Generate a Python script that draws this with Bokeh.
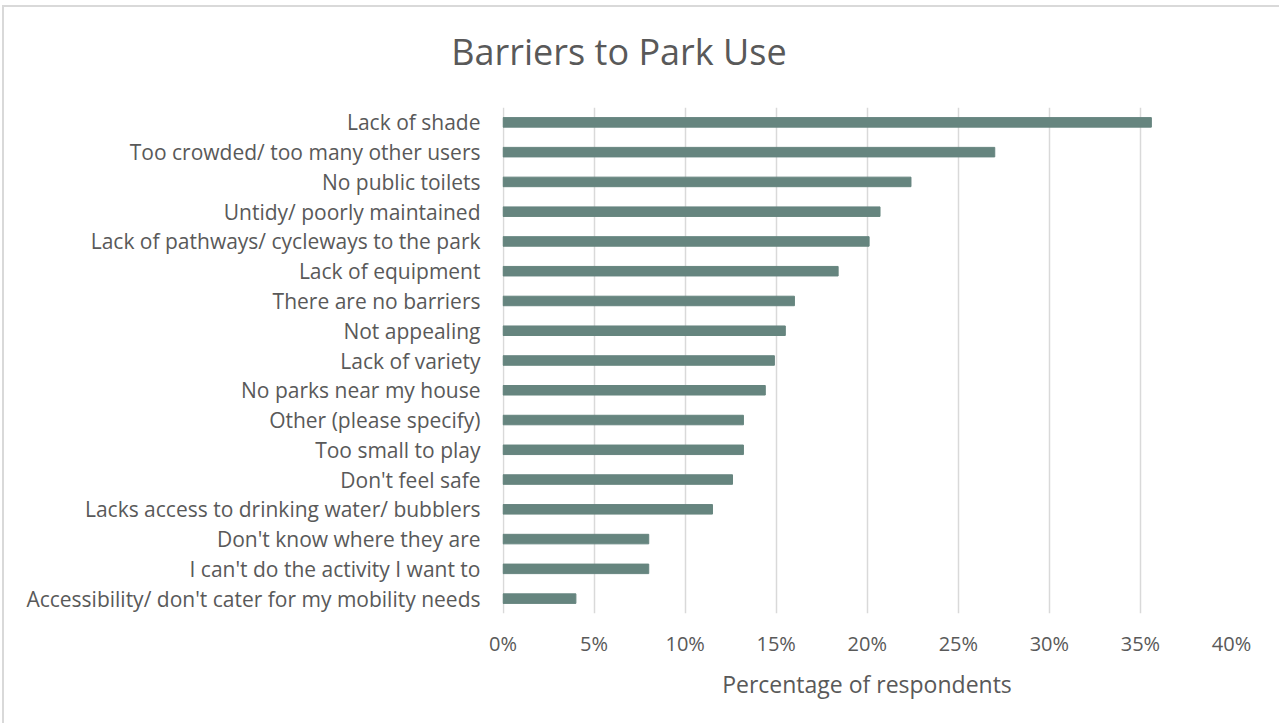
from bokeh.plotting import figure
from bokeh.models import Range1d, FixedTicker, PrintfTickFormatter, Div
from bokeh.layouts import column
from bokeh.embed import file_html
from bokeh.resources import INLINE

# ---- data (top-to-bottom order as shown) ----
categories = [
    "Lack of shade",
    "Too crowded/ too many other users",
    "No public toilets",
    "Untidy/ poorly maintained",
    "Lack of pathways/ cycleways to the park",
    "Lack of equipment",
    "There are no barriers",
    "Not appealing",
    "Lack of variety",
    "No parks near my house",
    "Other (please specify)",
    "Too small to play",
    "Don't feel safe",
    "Lacks access to drinking water/ bubblers",
    "Don't know where they are",
    "I can't do the activity I want to",
    "Accessibility/ don't cater for my mobility needs",
]
values = [35.6, 27.0, 22.4, 20.7, 20.1, 18.4, 16.0, 15.5, 14.9, 14.4,
          13.2, 13.2, 12.6, 11.5, 8.0, 8.0, 4.0]
x_ticks = [0, 5, 10, 15, 20, 25, 30, 35, 40]
title_text = "Barriers to Park Use"
x_label = "Percentage of respondents"

TEXT = "#595959"
BAR = "#66857f"
GRID = "#d9d9d9"
FONT = "Open Sans"

n = len(categories)
ypos = [n - 1 - i for i in range(n)]

title_div = Div(
    text=(f'<div style="width:1230px;text-align:center;margin-top:27px;'
          f'font-family:\'{FONT}\';font-size:36px;line-height:36px;color:{TEXT};">'
          f'{title_text}</div>'),
    width=1275, height=80, margin=(0, 0, 0, 0))

p = figure(width=1275, height=636,
           x_range=Range1d(-0.03, 40), y_range=Range1d(-0.5, n - 0.5),
           output_backend="svg", toolbar_location=None,
           min_border_left=498, min_border_right=48,
           min_border_top=20, min_border_bottom=110)
p.margin = (0, 0, 0, 0)

p.hbar(y=ypos, right=values, left=0, height=0.32, fill_color=BAR, line_color=BAR)

p.outline_line_color = None
p.background_fill_color = "white"
p.border_fill_color = "white"
p.ygrid.grid_line_color = None
p.xgrid.grid_line_color = GRID
p.xgrid.grid_line_width = 1.5
p.xgrid.ticker = FixedTicker(ticks=x_ticks)

xa = p.xaxis[0]
xa.ticker = FixedTicker(ticks=x_ticks)
xa.formatter = PrintfTickFormatter(format="%d%%")
xa.axis_line_color = None
xa.major_tick_line_color = None
xa.minor_tick_line_color = None
xa.major_tick_out = 0
xa.major_label_text_font = FONT
xa.major_label_text_font_size = "20px"
xa.major_label_text_color = TEXT
xa.major_label_standoff = 16
xa.axis_label = x_label
xa.axis_label_text_font = FONT
xa.axis_label_text_font_size = "23px"
xa.axis_label_text_font_style = "normal"
xa.axis_label_text_color = TEXT
xa.axis_label_standoff = 8

ya = p.yaxis[0]
ya.ticker = FixedTicker(ticks=ypos)
ya.major_label_overrides = {y: c for y, c in zip(ypos, categories)}
ya.axis_line_color = None
ya.major_tick_line_color = None
ya.minor_tick_line_color = None
ya.major_tick_out = 0
ya.major_label_text_font = FONT
ya.major_label_text_font_size = "21px"
ya.major_label_text_color = TEXT
ya.major_label_standoff = 22

layout = column(title_div, p, spacing=0)
layout.styles = {"border-left": "2px solid #d9d9d9", "border-top": "2px solid #d9d9d9",
                 "margin-left": "2px", "margin-top": "5px", "background": "white"}

open("out.html", "w").write(file_html(layout, INLINE))
